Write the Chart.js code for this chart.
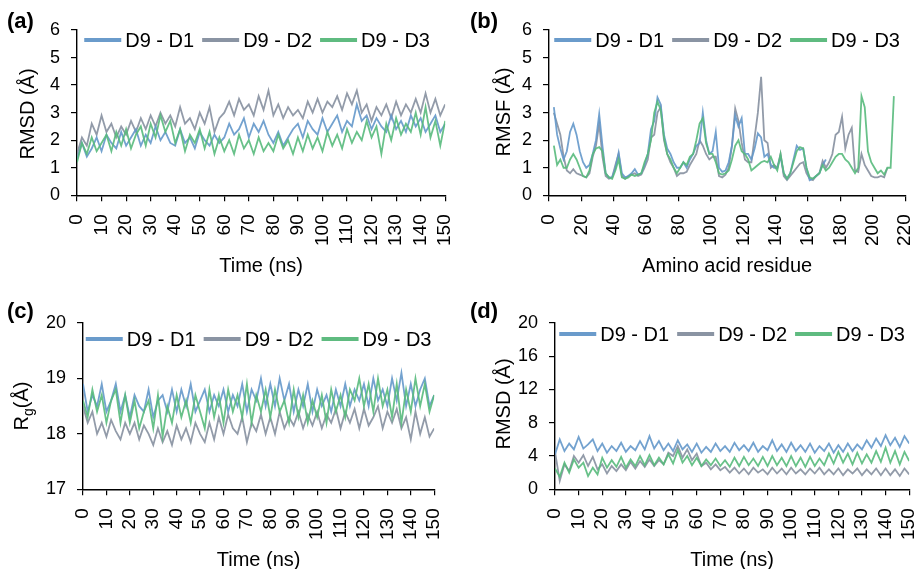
<!DOCTYPE html>
<html>
<head>
<meta charset="utf-8">
<script src="https://cdn.jsdelivr.net/npm/chart.js@4.4.0/dist/chart.umd.min.js"></script>
<style>
  body { margin: 0; background: #fff; overflow: hidden; }
  #wrap { position: relative; width: 917px; height: 569px; overflow: hidden; font-family: 'Liberation Sans', Arial, sans-serif; }
  .panel { position: absolute; }
  .tag { position: absolute; font-weight: bold; font-size: 22px; color: #000; }
  .ytitle { position: absolute; font-size: 20px; line-height: 22px; color: #000; white-space: nowrap;
            transform: translate(-50%, -50%) rotate(-90deg); transform-origin: center; }
</style>
</head>
<body>
<div id="wrap">
  <div class="panel" style="left:0;top:0;width:481px;height:290px"><canvas id="chartA"></canvas></div>
  <div class="panel" style="left:460px;top:0;width:481px;height:290px"><canvas id="chartB"></canvas></div>
  <div class="panel" style="left:0;top:290px;width:470px;height:285px"><canvas id="chartC"></canvas></div>
  <div class="panel" style="left:460px;top:290px;width:485px;height:285px"><canvas id="chartD"></canvas></div>
  <div class="tag" style="left:7px;top:8px">(a)</div>
  <div class="tag" style="left:470px;top:8px">(b)</div>
  <div class="tag" style="left:7px;top:298px">(c)</div>
  <div class="tag" style="left:470px;top:298px">(d)</div>
  <div class="ytitle" style="left:27px;top:114px">RMSD (Å)</div>
  <div class="ytitle" style="left:503px;top:112px">RMSF (Å)</div>
  <div class="ytitle" style="left:24px;top:406px">R<sub style="font-size:14px">g</sub>(Å)</div>
  <div class="ytitle" style="left:503px;top:404px">RMSD (Å)</div>
</div>
<script>
// series names + colours
const seriesNames = ["D9 - D1", "D9 - D2", "D9 - D3"];
const lineColors = ["rgba(100,152,202,0.9)", "rgba(134,144,160,0.9)", "rgba(88,186,124,0.9)"];
const keyColors = ["#6a9bcb", "#8a94a3", "#5fbb80"];

// time axis (ns), one sample every 2 ns
const timeNs = [0,2,4,6,8,10,12,14,16,18,20,22,24,26,28,30,32,34,36,38,40,42,44,46,48,50,52,54,56,58,60,62,64,66,68,70,72,74,76,78,80,82,84,86,88,90,92,94,96,98,100,102,104,106,108,110,112,114,116,118,120,122,124,126,128,130,132,134,136,138,140,142,144,146,148,150];

// (a) RMSD
const rmsdA_D1 = [1.3,1.9,1.4,1.7,2.1,1.6,2.2,1.9,1.7,2.3, 1.8,2.1,2.4,1.8,2.2,1.9,2.5,2.0,2.3,1.9, 1.8,2.4,1.9,2.1,1.7,2.3,2.0,1.8,2.2,1.9, 2.1,2.6,2.2,2.4,2.8,2.1,2.6,2.3,2.7,2.2, 1.9,2.3,1.8,2.1,2.4,2.6,2.1,2.7,2.4,2.2, 2.8,2.3,2.6,2.9,2.3,2.7,2.5,3.3,2.7,2.9, 2.4,2.8,2.5,2.3,2.9,2.4,2.7,2.3,2.9,2.5, 2.8,2.3,2.6,2.9,2.3,2.6];
const rmsdA_D2 = [1.5,2.1,1.8,2.6,2.2,2.9,2.3,2.6,2.1,2.5, 2.2,2.7,2.3,2.8,2.4,2.9,2.5,3.0,2.6,2.9, 2.5,3.2,2.6,2.8,2.4,3.0,2.6,3.2,2.3,2.8, 3.0,3.4,2.9,3.5,3.1,3.3,2.9,3.6,3.1,3.8, 2.9,3.3,2.8,3.2,2.9,3.1,2.8,3.4,3.0,3.5, 3.0,3.4,3.2,3.6,3.1,3.7,3.3,3.8,3.0,3.3, 2.7,3.2,2.9,3.3,2.8,3.4,2.9,3.3,3.0,3.5, 3.0,3.7,3.0,3.5,2.9,3.3];
const rmsdA_D3 = [1.2,1.9,1.5,2.1,1.6,1.9,2.2,1.6,2.3,1.8, 2.4,1.7,2.2,2.5,1.8,2.6,2.1,2.9,2.3,2.7, 1.9,2.4,1.6,2.2,1.9,2.4,1.7,2.3,1.5,2.1, 1.6,2.0,1.5,2.2,1.7,2.0,1.5,2.1,1.6,1.9, 1.6,2.2,1.7,2.0,1.5,2.1,1.6,2.2,1.7,2.1, 1.6,2.3,1.8,2.2,1.7,2.4,1.9,2.3,2.0,2.7, 2.1,2.5,1.5,2.6,2.0,2.8,2.2,2.6,2.3,3.0, 2.2,3.2,2.1,2.7,1.8,2.7];

// (b) RMSF, residues sampled every 2
const residues = [3,5,7,9,11,13,15,17,19,21,23,25,27,29,31,33,35,37,39,41,43,45,47,49,51,53,55,57,59,61,63,65,67,69,71,73,75,77,79,81,83,85,87,89,91,93,95,97,99,101,103,105,107,109,111,113,115,117,119,121,123,125,127,129,131,133,135,137,139,141,143,145,147,149,151,153,155,157,159,161,163,165,167,169,171,173,175,177,179,181,183,185,187,189,191,193,195,197,199,201,203,205,207,209,211,213];
const rmsf_D1 = [3.2,2.2,1.7,1.3,1.6,2.3,2.6,2.2,1.6,1.2,1.0,1.1,1.5,2.0,2.95,1.8,0.8,0.65,0.65,1.0,1.55,0.8,0.65,0.7,0.8,0.95,0.75,0.8,1.1,1.5,2.4,2.7,3.55,3.3,2.2,1.7,1.5,1.2,1.0,1.0,1.2,1.0,1.3,1.5,1.8,1.9,3.0,2.0,1.5,1.6,2.3,1.0,0.85,0.9,1.2,1.8,2.9,2.5,2.8,1.5,1.5,1.3,1.7,2.25,2.1,1.4,1.5,1.1,1.0,1.0,1.4,0.8,0.6,0.8,1.3,1.8,1.65,1.7,1.0,0.55,0.6,0.7,0.8,1.1,1.3,null,null,null,null,null,null,null,null,null,null,null,null,null,null,null,null,null,null,null,null,null];
const rmsf_D2 = [3.0,2.6,2.2,1.4,0.9,0.8,0.95,0.8,0.75,0.7,0.65,0.8,1.4,1.8,2.6,1.4,0.7,0.6,0.65,1.1,1.5,0.7,0.6,0.7,0.75,0.8,0.7,0.75,1.0,1.3,2.1,2.2,3.0,3.2,2.0,1.5,1.2,1.0,0.7,0.8,0.8,0.85,1.1,1.3,1.5,2.0,1.8,1.5,1.3,1.4,1.4,0.7,0.65,0.75,1.0,1.8,3.15,2.7,1.9,1.3,1.2,1.2,2.1,3.0,4.3,2.0,1.9,1.0,1.1,1.0,1.5,0.7,0.55,0.7,0.85,1.0,1.15,1.2,0.8,0.6,0.55,0.7,0.8,1.25,1.0,1.2,1.5,2.2,2.3,2.85,1.7,2.2,2.45,0.9,0.85,1.5,1.1,0.9,0.7,0.65,0.65,0.7,0.65,1.0,null,null];
const rmsf_D3 = [1.8,1.1,1.3,1.0,1.0,1.3,1.5,1.3,1.0,0.7,0.65,0.9,1.5,1.7,1.75,1.6,0.8,0.65,0.6,0.9,1.3,0.65,0.6,0.65,0.75,0.7,0.75,0.8,1.2,1.5,2.0,3.0,3.4,3.1,2.1,1.5,1.3,1.0,0.8,1.0,1.2,1.1,1.4,1.5,2.0,2.6,2.8,1.9,1.5,1.5,1.2,0.8,0.75,0.8,0.9,1.3,1.8,2.0,1.6,1.5,1.3,0.9,1.0,1.1,1.2,1.25,1.2,1.4,1.1,0.9,1.5,0.8,0.6,0.8,1.2,1.6,1.75,1.7,1.0,0.65,0.6,0.7,0.8,1.1,0.9,1.0,1.2,1.4,1.5,1.5,1.3,1.2,1.0,0.8,1.0,3.6,3.2,1.6,1.2,1.0,0.8,0.9,0.75,1.0,1.0,3.6];

// (c) radius of gyration
const rg_D1 = [18.9,18.4,18.7,18.5,18.9,18.4,18.6,18.9,18.4,18.7, 18.3,18.7,18.5,18.4,18.8,18.3,18.6,18.7,18.4,18.8, 18.4,18.8,18.5,18.9,18.4,18.6,18.8,18.4,18.7,18.5, 18.8,18.4,18.7,18.5,18.9,18.4,18.8,18.6,19.0,18.5, 18.9,18.5,19.0,18.6,18.9,18.4,18.8,18.5,18.9,18.4, 18.8,18.5,18.7,18.4,18.8,18.5,18.9,18.5,18.8,18.6, 18.9,18.5,19.0,18.6,18.8,18.5,19.0,18.6,19.1,18.5, 18.9,18.5,18.8,19.0,18.5,18.7];
const rg_D2 = [18.5,18.2,18.4,18.0,18.2,17.95,18.25,18.05,17.9,18.2, 18.0,18.2,17.9,18.15,18.0,17.8,18.1,17.85,18.05,17.8, 18.15,17.9,18.1,17.85,18.2,18.0,17.85,18.2,17.9,18.3, 18.0,18.35,18.1,18.0,18.3,17.85,18.2,18.05,18.35,18.0, 18.3,18.0,18.4,18.1,18.3,18.15,18.4,18.1,18.35,18.15, 18.4,18.1,18.35,18.2,18.45,18.1,18.4,18.2,18.45,18.1, 18.45,18.15,18.3,18.5,18.1,18.4,18.2,18.45,18.1,18.3, 17.9,18.4,18.0,18.3,17.95,18.1];
const rg_D3 = [18.6,18.3,18.8,18.4,18.7,18.2,18.6,18.8,18.2,18.7, 18.2,18.6,18.1,18.4,18.6,18.1,18.7,17.95,18.5,18.2, 18.7,18.3,18.6,18.2,18.7,18.4,18.1,18.8,18.3,18.7, 18.2,18.8,18.4,18.7,18.3,18.9,18.2,18.7,18.4,18.8, 18.3,18.8,18.4,18.6,18.2,18.8,18.3,18.7,18.2,18.6, 18.3,18.7,18.2,18.8,18.4,18.7,18.3,18.8,18.6,19.0, 18.5,18.9,18.4,19.0,18.5,18.8,18.3,18.9,18.2,18.8, 18.4,19.0,18.5,18.9,18.4,18.7];

// (d) RMSD
const rmsdD_D1 = [4.2,6.0,4.6,5.5,4.8,6.3,4.9,5.4,6.0,4.6, 5.5,4.4,5.2,4.6,5.6,4.5,5.2,4.7,5.8,4.8, 6.4,4.9,5.8,4.7,5.5,4.6,5.9,4.8,5.4,4.5, 5.5,4.4,5.1,4.5,5.5,4.6,5.2,4.5,5.6,4.7, 5.3,4.6,5.6,4.5,5.2,4.7,5.9,4.6,5.4,4.5, 5.6,4.6,5.3,4.5,5.5,4.4,5.2,4.6,5.5,4.4, 5.3,4.5,5.5,4.6,5.4,4.8,5.9,5.0,6.1,5.2, 6.5,5.3,6.2,5.1,6.4,5.5];
const rmsdD_D2 = [4.5,1.0,3.0,2.2,4.0,3.2,4.1,2.8,3.9,2.4, 3.0,1.9,2.8,2.2,3.0,2.3,3.3,2.5,3.4,2.7, 3.6,2.8,3.5,3.0,4.4,4.0,5.2,3.8,4.8,3.5, 4.3,2.8,3.2,2.4,3.0,2.3,2.7,2.0,2.6,1.9, 2.5,1.8,2.6,2.0,2.4,1.8,2.6,1.9,2.5,1.8, 2.6,1.9,2.4,1.8,2.5,1.9,2.6,1.8,2.4,1.8, 2.5,1.7,2.4,1.9,2.5,1.7,2.4,1.8,2.5,1.7, 2.5,1.7,2.4,1.6,2.5,1.8];
const rmsdD_D3 = [2.5,1.5,3.2,2.0,3.6,2.6,3.2,1.6,2.6,1.8, 3.8,2.6,3.5,2.7,3.9,2.6,3.6,2.8,4.0,2.9, 4.1,2.9,3.8,3.0,4.2,3.1,4.7,3.2,4.0,2.9, 3.8,2.8,3.6,2.9,3.7,2.8,3.5,2.7,3.8,2.8, 3.9,2.9,3.7,2.8,3.9,2.8,4.0,2.9,3.8,2.8, 4.0,2.8,3.8,2.7,3.9,2.8,3.7,2.9,4.3,3.1, 4.5,3.2,4.3,3.0,4.4,3.1,4.2,3.2,4.6,3.3, 5.0,3.2,4.6,3.0,4.5,3.4];

Chart.defaults.font.family = "'Liberation Sans', Arial, sans-serif";
Chart.defaults.color = "#000";

// legend drawn inside the plot area, one row across the top
const insideLegend = {
  id: "insideLegend",
  afterDatasetsDraw(chart, args, opts) {
    const ctx = chart.ctx;
    const area = chart.chartArea;
    ctx.save();
    ctx.font = "20px 'Liberation Sans', Arial, sans-serif";
    const items = chart.data.datasets.map(ds => ({
      text: ds.label, color: ds.backgroundColor, w: ctx.measureText(ds.label).width
    }));
    const lineLen = 37, gap = 4, space = 8;
    let total = space * (items.length - 1);
    items.forEach(it => { total += lineLen + gap + it.w; });
    let x = (area.left + area.right) / 2 - total / 2 + (opts.shift || 0);
    const y = area.top + (opts.offset || 10);
    ctx.textBaseline = "middle";
    items.forEach(it => {
      ctx.strokeStyle = it.color;
      ctx.lineWidth = 4;
      ctx.beginPath();
      ctx.moveTo(x, y);
      ctx.lineTo(x + lineLen, y);
      ctx.stroke();
      ctx.fillStyle = "#000";
      ctx.fillText(it.text, x + lineLen + gap, y + 1);
      x += lineLen + gap + it.w + space;
    });
    ctx.restore();
  }
};

function makeSets(xs, lists, width) {
  // D3 drawn on top, then D1, then D2
  const drawOrder = [1, 2, 0];
  return lists.map((ys, i) => ({
    label: seriesNames[i],
    data: xs.map((x, k) => ({ x: x, y: ys[k] })),
    borderColor: lineColors[i],
    backgroundColor: keyColors[i],
    borderWidth: width,
    pointRadius: 0,
    tension: 0,
    order: drawOrder[i]
  }));
}

function axis(min, max, step, title, rotate) {
  const ax = {
    type: "linear",
    min: min,
    max: max,
    grid: { drawOnChartArea: false, drawTicks: true, tickLength: 6, color: "#000", lineWidth: 1.2 },
    border: { color: "#000", width: 1.4 },
    ticks: { stepSize: step, autoSkip: false, font: { size: 18 }, color: "#000", padding: 11 },
    title: { display: !!title, text: title, font: { size: 20, lineHeight: 1 }, color: "#000", padding: 0 }
  };
  if (rotate) {
    ax.ticks.minRotation = 90;
    ax.ticks.maxRotation = 90;
    ax.ticks.padding = 13;
    ax.ticks.font = { size: 19 };
    ax.title.font = { size: 20, lineHeight: 0.7 };
  }
  return ax;
}

function makeChart(id, xs, lists, width, xAx, yAx, pad, legendOffset, legendShift) {
  new Chart(document.getElementById(id), {
    type: "line",
    data: { datasets: makeSets(xs, lists, width) },
    options: {
      responsive: true,
      maintainAspectRatio: false,
      animation: false,
      layout: { padding: pad },
      plugins: {
        tooltip: { enabled: false },
        legend: { display: false },
        insideLegend: { offset: legendOffset, shift: legendShift }
      },
      scales: { x: xAx, y: yAx }
    },
    plugins: [insideLegend]
  });
}

// y-axis titles are set as page text beside each chart
makeChart("chartA", timeNs, [rmsdA_D1, rmsdA_D2, rmsdA_D3], 1.8,
  axis(0, 150, 10, "Time (ns)", true), axis(0, 6, 1, ""),
  { left: 39, right: 0, top: 30, bottom: 17 }, 10, -4);

makeChart("chartB", residues, [rmsf_D1, rmsf_D2, rmsf_D3], 1.8,
  axis(0, 220, 20, "Amino acid residue", true), axis(0, 6, 1, ""),
  { left: 51, right: 0, top: 30, bottom: 17 }, 10, 0);

makeChart("chartC", timeNs, [rg_D1, rg_D2, rg_D3], 1.8,
  axis(0, 150, 10, "Time (ns)", true), axis(17, 20, 1, ""),
  { left: 35, right: 0, top: 33, bottom: 8 }, 16, 0);

makeChart("chartD", timeNs, [rmsdD_D1, rmsdD_D2, rmsdD_D3], 1.8,
  axis(0, 150, 10, "Time (ns)", true), axis(0, 20, 4, ""),
  { left: 47, right: 0, top: 33, bottom: 8 }, 11, 0);
</script>
</body>
</html>
